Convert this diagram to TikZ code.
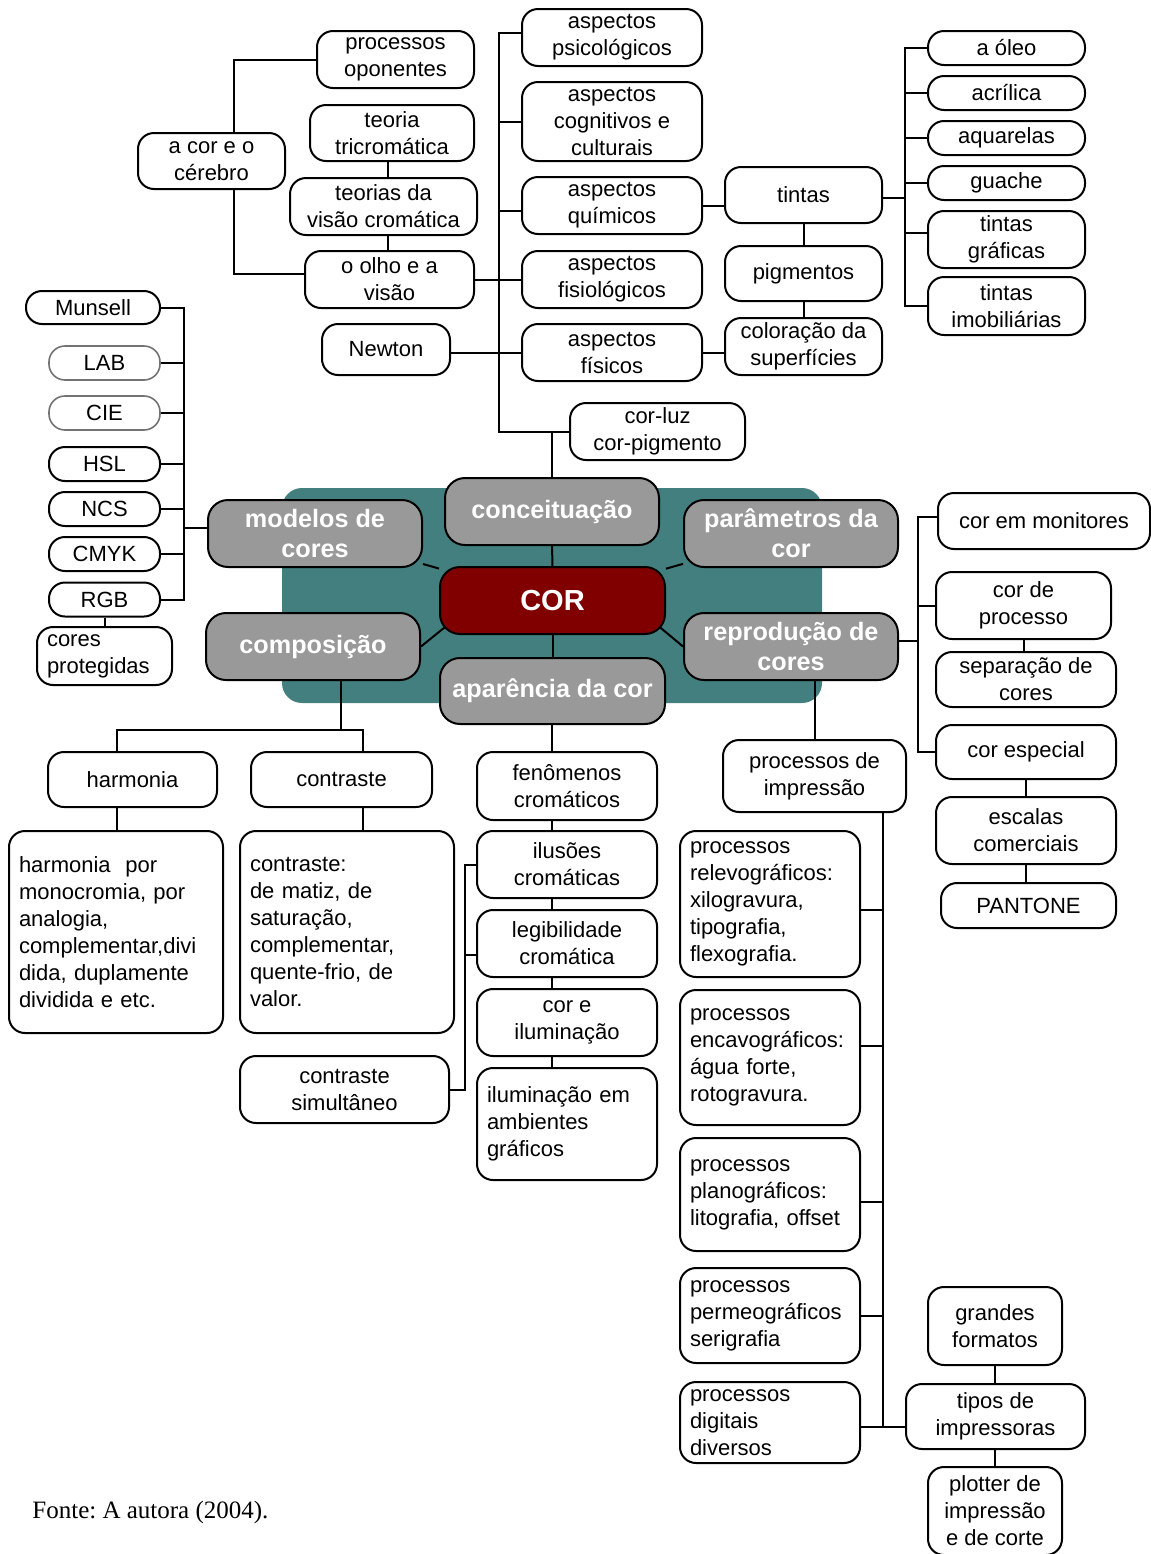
\documentclass[tikz,border=0pt]{standalone}
\usepackage{fontspec}
\setmainfont{Liberation Sans}
\newfontfamily\captionserif{Liberation Serif}
\usetikzlibrary{calc}
\definecolor{hubgray}{HTML}{999999}
\definecolor{tealbg}{HTML}{437F7E}
\definecolor{corred}{HTML}{800000}
\newcommand\fsn{\fontsize{11}{13.5}\selectfont}
\newcommand\fsb{\fontsize{12.6}{15}\selectfont\bfseries}
\newcommand\fcor{\fontsize{14.5}{17}\selectfont\bfseries}
\pgfdeclarelayer{bg}
\pgfsetlayers{bg,main}
\tikzset{
  bx/.style={draw, line width=1pt, rounded corners=8pt, fill=white, align=center, inner sep=0pt, font=\fsn},
  sz/.style 2 args={minimum width=#1*0.5pt, minimum height=#2*0.5pt},
  hub/.style={draw, line width=1pt, rounded corners=10pt, fill=hubgray, text=white, font=\fsb, align=center, inner sep=0pt},
  wire/.style={line width=1pt},
  faint/.style={draw=black!55, line width=0.8pt}
}
\begin{document}
\begin{tikzpicture}[x=0.5pt,y=-0.5pt]
\useasboundingbox (0,0) rectangle (1151,1554);

% ---- colour and the brain
\node[bx,sz={157}{57}] (po) at (395.5,59.5) {processos\\oponentes};
\node[bx,sz={164}{56}] (tt) at (392,133) {teoria\\tricromática};
\node[bx,sz={147}{56}] (cc) at (211.5,161) {a cor e o\\cérebro};
\node[bx,sz={187}{57}] (tv) at (383.5,206.5) {teorias da\\visão cromática};
\node[bx,sz={169}{57}] (ov) at (389.5,279.5) {o olho e a\\visão};
\node[bx,sz={128}{51}] (nw) at (386,349.5) {Newton};

% ---- aspects
\node[bx,sz={180}{57}] (ap) at (612,37.5) {aspectos\\psicológicos};
\node[bx,sz={180}{79}] (ac) at (612,121.5) {aspectos\\cognitivos e\\culturais};
\node[bx,sz={180}{57}] (aq) at (612,205.5) {aspectos\\químicos};
\node[bx,sz={180}{57}] (af) at (612,279.5) {aspectos\\fisiológicos};
\node[bx,sz={180}{57}] (afi) at (612,352.5) {aspectos\\físicos};
\node[bx,sz={175}{57}] (cl) at (657.5,431.5) {cor-luz\\cor-pigmento};

% ---- paints
\node[bx,sz={157}{56}] (ti) at (803.5,195) {tintas};
\node[bx,sz={157}{55}] (pg) at (803.5,273.5) {pigmentos};
\node[bx,sz={157}{57}] (cs) at (803.5,346.5) {coloração da\\superfícies};
\node[bx,sz={157}{34}] (oleo) at (1006.5,48) {a óleo};
\node[bx,sz={157}{34}] (acr) at (1006.5,93) {acrílica};
\node[bx,sz={157}{34}] (aqu) at (1006.5,138) {aquarelas};
\node[bx,sz={157}{34}] (gua) at (1006.5,183) {guache};
\node[bx,sz={157}{57}] (tgr) at (1006.5,239.5) {tintas\\gráficas};
\node[bx,sz={157}{58}] (tim) at (1006.5,306) {tintas\\imobiliárias};

% ---- colour models
\node[bx,sz={134}{33}] (mun) at (93,307.5) {Munsell};
\node[bx,faint,sz={111}{34}] (lab) at (104.5,363) {LAB};
\node[bx,faint,sz={111}{34}] (cie) at (104.5,413) {CIE};
\node[bx,sz={111}{34}] (hsl) at (104.5,464) {HSL};
\node[bx,sz={111}{34}] (ncs) at (104.5,509) {NCS};
\node[bx,sz={111}{34}] (cmyk) at (104.5,554) {CMYK};
\node[bx,sz={111}{34}] (rgb) at (104.5,599.5) {RGB};
\node[bx,sz={135}{58},align=left,text width=57.5pt,inner xsep=5pt] (cp) at (104.5,656) {cores\\protegidas};

% ---- central hub
\node[hub,sz={214}{67}] (conc) at (552,511.5) {conceituação};
\node[hub,sz={214}{67}] (mod) at (315,533.5) {modelos de\\cores};
\node[hub,sz={214}{67}] (par) at (791,533.5) {parâmetros da\\cor};
\node[hub,fill=corred,font=\fcor,sz={225}{67}] (cor) at (552.5,600.5) {COR};
\node[hub,sz={214}{67}] (comp) at (313,646.5) {composição};
\node[hub,sz={214}{67}] (rep) at (791,646.5) {reprodução de\\cores};
\node[hub,sz={225}{66}] (apar) at (552.5,691) {aparência da cor};

% ---- colour reproduction
\node[bx,sz={212}{56}] (mon) at (1044,521) {cor em monitores};
\node[bx,sz={175}{67}] (cdp) at (1023.5,605.5) {cor de\\processo};
\node[bx,sz={180}{55}] (sep) at (1026,679.5) {separação de\\cores};
\node[bx,sz={180}{54}] (ces) at (1026,752) {cor especial};
\node[bx,sz={180}{67}] (esc) at (1026,830.5) {escalas\\comerciais};
\node[bx,sz={175}{45}] (pan) at (1028.5,905.5) {PANTONE};

% ---- printing
\node[bx,sz={183}{72}] (pimp) at (814.5,776) {processos de\\impressão};
\node[bx,sz={180}{146},align=left,text width=80pt,inner xsep=5pt] (rel) at (770,904) {processos\\relevográficos:\\xilogravura,\\tipografia,\\flexografia.};
\node[bx,sz={180}{135},align=left,text width=80pt,inner xsep=5pt] (enc) at (770,1057.5) {processos\\encavográficos:\\água forte,\\rotogravura.};
\node[bx,sz={180}{113},align=left,text width=80pt,inner xsep=5pt] (pla) at (770,1194.5) {processos\\planográficos:\\litografia, offset};
\node[bx,sz={180}{95},align=left,text width=80pt,inner xsep=5pt] (per) at (770,1315.5) {processos\\permeográficos\\serigrafia};
\node[bx,sz={180}{81},align=left,text width=80pt,inner xsep=5pt] (dig) at (770,1422.5) {processos\\digitais\\diversos};
\node[bx,sz={179}{65}] (tip) at (995.5,1416.5) {tipos de\\impressoras};
\node[bx,sz={134}{78}] (gra) at (995,1326) {grandes\\formatos};
\node[bx,sz={134}{88}] (plo) at (995,1511) {plotter de\\impressão\\e de corte};

% ---- composition
\node[bx,sz={169}{55}] (har) at (132.5,779.5) {harmonia};
\node[bx,sz={181}{55}] (con) at (341.5,779.5) {contraste};
\node[bx,sz={214}{202},align=left,text width=97pt,inner xsep=5pt] (harT) at (116,932) {harmonia\ \ por\\monocromia, por\\analogia,\\complementar,divi\\dida, duplamente\\dividida e etc.};
\node[bx,sz={214}{202},align=left,text width=97pt,inner xsep=5pt] (conT) at (347,932) {contraste:\\de matiz, de\\saturação,\\complementar,\\quente-frio, de\\valor.};
\node[bx,sz={209}{67}] (csim) at (344.5,1089.5) {contraste\\simultâneo};

% ---- colour appearance
\node[bx,sz={180}{68}] (fen) at (567,786) {fenômenos\\cromáticos};
\node[bx,sz={180}{67}] (ilu) at (567,864.5) {ilusões\\cromáticas};
\node[bx,sz={180}{67}] (leg) at (567,943.5) {legibilidade\\cromática};
\node[bx,sz={180}{67}] (cil) at (567,1022.5) {cor e\\iluminação};
\node[bx,sz={180}{112},align=left,text width=80pt,inner xsep=5pt] (ila) at (567,1124) {iluminação em\\ambientes\\gráficos};

% ---- source line
\node[anchor=base west,inner sep=0pt,font=\captionserif\fontsize{12.5}{15}\selectfont] (src) at (32,1518) {\frenchspacing Fonte: A autora (2004).};

% ---- spine positions
\coordinate (xA) at (234,0);
\coordinate (xB) at (499,0);
\coordinate (xC) at (905,0);
\coordinate (xD) at (184,0);
\coordinate (xE) at (918,0);
\coordinate (xF) at (883,0);
\coordinate (xG) at (465,0);
\coordinate (xH) at (552,0);
\coordinate (xI) at (117,0);
\coordinate (xJ) at (363,0);
\coordinate (xK) at (341,0);
\coordinate (yK) at (0,730);
\coordinate (xV) at (388,0);

% ---- connectors: brain and vision
\draw[wire] (po.west) -| (xA |- cc.north);
\draw[wire] ($(ov.west)+(0,-6)$) -| (xA |- cc.south);
\draw[wire] (xV |- tt.south) -- (xV |- tv.north);
\draw[wire] (xV |- tv.south) -- (xV |- ov.north);

% ---- connectors: aspects
\draw[wire] ($(ap.west)+(0,-5)$) -| (xB |- cl.west) -- (cl.west);
\draw[wire] (ac.west) -- (ac.west -| xB);
\draw[wire] ($(aq.west)+(0,5)$) -- ++(-23,0);
\draw[wire] (ov.east) -- (af.west);
\draw[wire] (nw.east |- afi.west) -- (afi.west);
\draw[wire] (conc.north) -- (conc.north |- cl.west);

% ---- connectors: paints
\draw[wire] (aq.east) -- (aq.east -| ti.west);
\draw[wire] (ti.south) -- (pg.north);
\draw[wire] (pg.south) -- (cs.north);
\draw[wire] (afi.east) -- (afi.east -| cs.west);
\draw[wire] ($(ti.east)+(0,3)$) -- ++(23,0);
\draw[wire] (oleo.west) -| (xC |- tim.west) -- (tim.west);
\foreach \n in {acr,aqu,gua} \draw[wire] (\n.west) -- (\n.west -| xC);
\draw[wire] ($(tgr.west)+(0,-7)$) -- ++(-23,0);

% ---- connectors: colour models
\draw[wire] (mun.east) -| (xD |- rgb.east) -- (rgb.east);
\foreach \n in {lab,cie,hsl,ncs,cmyk} \draw[wire] (\n.east) -- (\n.east -| xD);
\draw[wire] ($(mod.west)+(0,-6)$) -- ++(-24,0);
\draw[wire] (rgb.south) -- (cp.north);

% ---- central hub background and spokes
\begin{pgfonlayer}{bg}
  \fill[tealbg, rounded corners=10pt] (282,488) rectangle (822,703);
  \draw[wire] (conc) -- (cor);
  \draw[wire] (apar) -- (cor);
  \draw[wire] (mod) -- (cor);
  \draw[wire] (par) -- (cor);
  \draw[wire] (comp.east) -- ($(cor.south west)+(16,-16)$);
  \draw[wire] (rep.west) -- ($(cor.south east)+(-16,-16)$);
\end{pgfonlayer}

% ---- connectors: colour reproduction
\draw[wire] ($(mon.west)+(0,-4)$) -| (xE |- ces.west) -- (ces.west);
\draw[wire] (cdp.west) -- (cdp.west -| xE);
\draw[wire] ($(rep.east)+(0,-6)$) -- ++(20,0);
\draw[wire] (cdp.south) -- (cdp.south |- sep.north);
\draw[wire] (ces.south) -- (esc.north);
\draw[wire] (esc.south) -- (esc.south |- pan.north);

% ---- connectors: printing
\draw[wire] (pimp.north) -- (pimp.north |- rep.south);
\draw[wire] (xF |- pimp.south) -- ($(xF |- dig.east)+(0,4)$);
\draw[wire] ($(rel.east)+(0,6)$) -- ++(23,0);
\draw[wire] ($(enc.east)+(0,-12)$) -- ++(23,0);
\draw[wire] ($(pla.east)+(0,7)$) -- ++(23,0);
\draw[wire] (per.east) -- (per.east -| xF);
\draw[wire] ($(dig.east)+(0,4)$) -- ++(46,0);
\draw[wire] (gra.south) -- (gra.south |- tip.north);
\draw[wire] (tip.south -| plo.north) -- (plo.north);

% ---- connectors: composition
\draw[wire] (xK |- comp.south) -- (xK |- yK);
\draw[wire] (xI |- har.north) |- (xJ |- yK) -- (xJ |- con.north);
\draw[wire] (xI |- har.south) -- (xI |- harT.north);
\draw[wire] (xJ |- con.south) -- (xJ |- conT.north);
\draw[wire] (csim.east) -| (xG |- ilu.west) -- (ilu.west);
\draw[wire] ($(leg.west)+(0,11)$) -- ++(-12,0);

% ---- connectors: colour appearance
\draw[wire] (xH |- apar.south) -- (xH |- fen.north);
\draw[wire] (xH |- fen.south) -- (xH |- ilu.north);
\draw[wire] (xH |- ilu.south) -- (xH |- leg.north);
\draw[wire] (xH |- leg.south) -- (xH |- cil.north);
\draw[wire] (xH |- cil.south) -- (xH |- ila.north);
\end{tikzpicture}
\end{document}
